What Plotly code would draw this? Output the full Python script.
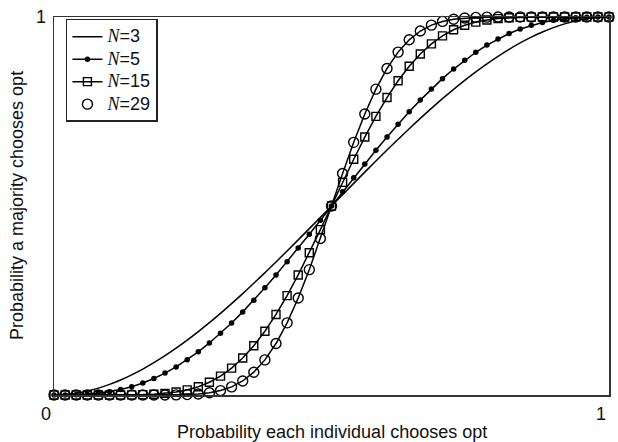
import plotly.graph_objects as go

p = [0.00, 0.02, 0.04, 0.06, 0.08, 0.10, 0.12, 0.14, 0.16, 0.18,
     0.20, 0.22, 0.24, 0.26, 0.28, 0.30, 0.32, 0.34, 0.36, 0.38,
     0.40, 0.42, 0.44, 0.46, 0.48, 0.50, 0.52, 0.54, 0.56, 0.58,
     0.60, 0.62, 0.64, 0.66, 0.68, 0.70, 0.72, 0.74, 0.76, 0.78,
     0.80, 0.82, 0.84, 0.86, 0.88, 0.90, 0.92, 0.94, 0.96, 0.98, 1.00]

n3 = [0.0000, 0.0012, 0.0047, 0.0104, 0.0182, 0.0280, 0.0397, 0.0533, 0.0686, 0.0855,
      0.1040, 0.1239, 0.1452, 0.1677, 0.1913, 0.2160, 0.2417, 0.2682, 0.2955, 0.3235,
      0.3520, 0.3810, 0.4104, 0.4401, 0.4700, 0.5000, 0.5300, 0.5599, 0.5896, 0.6190,
      0.6480, 0.6765, 0.7045, 0.7318, 0.7583, 0.7840, 0.8087, 0.8323, 0.8548, 0.8761,
      0.8960, 0.9145, 0.9314, 0.9467, 0.9603, 0.9720, 0.9818, 0.9896, 0.9953, 0.9988, 1.0000]

n5 = [0.0000, 0.0001, 0.0006, 0.0020, 0.0045, 0.0086, 0.0143, 0.0220, 0.0318, 0.0437,
      0.0579, 0.0744, 0.0933, 0.1143, 0.1377, 0.1631, 0.1905, 0.2199, 0.2509, 0.2835,
      0.3174, 0.3525, 0.3886, 0.4253, 0.4625, 0.5000, 0.5375, 0.5747, 0.6114, 0.6475,
      0.6826, 0.7165, 0.7491, 0.7801, 0.8095, 0.8369, 0.8623, 0.8857, 0.9067, 0.9256,
      0.9421, 0.9563, 0.9682, 0.9780, 0.9857, 0.9914, 0.9955, 0.9980, 0.9994, 0.9999, 1.0000]

n15 = [0.0000, 0.0000, 0.0000, 0.0000, 0.0000, 0.0000, 0.0001, 0.0004, 0.0010, 0.0021,
       0.0042, 0.0078, 0.0135, 0.0219, 0.0338, 0.0500, 0.0711, 0.0977, 0.1302, 0.1687,
       0.2131, 0.2630, 0.3176, 0.3762, 0.4374, 0.5000, 0.5626, 0.6238, 0.6824, 0.7370,
       0.7869, 0.8313, 0.8698, 0.9023, 0.9289, 0.9500, 0.9662, 0.9781, 0.9865, 0.9922,
       0.9958, 0.9979, 0.9990, 0.9996, 0.9999, 1.0000, 1.0000, 1.0000, 1.0000, 1.0000, 1.0000]

n29 = [0.0000, 0.0000, 0.0000, 0.0000, 0.0000, 0.0000, 0.0000, 0.0000, 0.0000, 0.0000,
       0.0001, 0.0004, 0.0011, 0.0027, 0.0059, 0.0117, 0.0215, 0.0371, 0.0603, 0.0929,
       0.1362, 0.1909, 0.2565, 0.3316, 0.4140, 0.5000, 0.5860, 0.6684, 0.7435, 0.8091,
       0.8638, 0.9071, 0.9397, 0.9629, 0.9785, 0.9883, 0.9941, 0.9973, 0.9989, 0.9996,
       0.9999, 1.0000, 1.0000, 1.0000, 1.0000, 1.0000, 1.0000, 1.0000, 1.0000, 1.0000, 1.0000]

labels = ["3", "5", "15", "29"]
x_ticks = [0, 1]
x_ticklabels = ["0", "1"]
y_ticks = [1]
y_ticklabels = ["1"]

def lab(n):
    return ('<span style="font-size:18px"><span style="font-family:Liberation Serif;'
            'font-style:italic">N</span>=' + n + '</span>')

SANS = "Liberation Sans, Arial, sans-serif"
BLACK = "#000000"
TXT = "#111111"
FS = 18

fig = go.Figure()
fig.add_trace(go.Scatter(
    x=p, y=n3, mode="lines", name=lab(labels[0]),
    line=dict(color=BLACK, width=1.5, shape="spline"), cliponaxis=False))
fig.add_trace(go.Scatter(
    x=p, y=n5, mode="lines+markers", name=lab(labels[1]),
    line=dict(color=BLACK, width=1.5),
    marker=dict(symbol="circle", size=5.5, color=BLACK), cliponaxis=False))
fig.add_trace(go.Scatter(
    x=p, y=n15, mode="lines+markers", name=lab(labels[2]),
    line=dict(color=BLACK, width=1.5),
    marker=dict(symbol="square-open", size=8, color=BLACK, line=dict(width=1.4)),
    cliponaxis=False))
fig.add_trace(go.Scatter(
    x=p, y=n29, mode="lines+markers", name=lab(labels[3]), showlegend=False,
    line=dict(color=BLACK, width=1.5),
    marker=dict(symbol="circle-open", size=10, color=BLACK, line=dict(width=1.4)),
    cliponaxis=False))
fig.add_trace(go.Scatter(
    x=[None], y=[None], mode="markers", name=lab(labels[3]),
    marker=dict(symbol="circle-open", size=10, color=BLACK, line=dict(width=1.4))))

axis_common = dict(
    range=[0, 1], showgrid=False, zeroline=False, showline=True, mirror=True,
    linecolor="#333333", linewidth=1.5, ticks="",
    tickfont=dict(family=SANS, size=FS, color=TXT))

fig.update_layout(
    width=618, height=442,
    margin=dict(l=54, r=7, t=12, b=47),
    paper_bgcolor="white", plot_bgcolor="white",
    font=dict(family=SANS, size=FS, color=TXT),
    showlegend=True,
    hovermode=False,
    legend=dict(
        x=0.0215, y=0.995, xanchor="left", yanchor="top",
        bgcolor="white", bordercolor="#222222", borderwidth=1.5,
        font=dict(family=SANS, size=15, color=TXT),
        itemwidth=30, tracegroupgap=0),
    xaxis=dict(axis_common, tickvals=x_ticks, ticktext=x_ticklabels,
               ticklabelshift=-8, ticklabelstandoff=2),
    yaxis=dict(axis_common, tickvals=y_ticks, ticktext=y_ticklabels,
               ticklabelstandoff=3),
    annotations=[
        dict(text="Probability each individual chooses opt", xref="paper", yref="paper",
             x=0.5, y=0, xanchor="center", yanchor="middle", yshift=-37,
             showarrow=False, font=dict(family=SANS, size=FS, color=TXT)),
        dict(text="Probability a majority chooses opt", xref="paper", yref="paper",
             x=0, y=0.5, xanchor="center", yanchor="middle", xshift=-37, textangle=-90,
             showarrow=False, font=dict(family=SANS, size=FS, color=TXT)),
    ],
)

# remove the default 8px page margin so the 618x442 figure fills the window exactly
fig.write_html("out.html", config={"displayModeBar": False, "staticPlot": True},
               post_script="document.body.style.margin='0';")
